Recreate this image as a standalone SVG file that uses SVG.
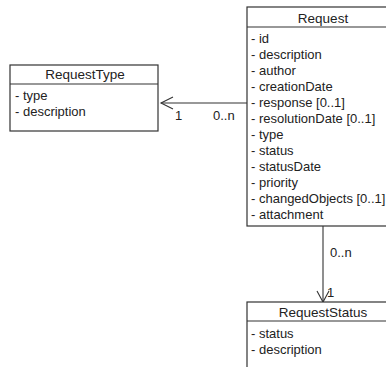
<svg xmlns="http://www.w3.org/2000/svg" width="386" height="367" viewBox="0 0 386 367">
<style>
  .box { fill: #ffffff; stroke: #333333; stroke-width: 1.2; }
  .sep { stroke: #333333; stroke-width: 1.2; }
  .title { font-family: "Liberation Sans", Arial, sans-serif; font-size: 13.5px; fill: #222222; text-anchor: middle; }
  .attr { font-family: "Liberation Sans", Arial, sans-serif; font-size: 13px; fill: #222222; }
  .lbl { font-family: "Liberation Sans", Arial, sans-serif; font-size: 13px; fill: #222222; }
  .conn { fill: none; stroke: #333333; stroke-width: 1.1; }
</style>
<rect width="386" height="367" fill="#ffffff"/>

<g id="connectors">
  <line class="conn" x1="247" y1="103" x2="161" y2="103"/>
  <polyline class="conn" points="173,97 161,103 173,109"/>
  <text class="lbl" x="175" y="120">1</text>
  <text class="lbl" x="213" y="120">0..n</text>

  <line class="conn" x1="323" y1="226" x2="323" y2="302"/>
  <polyline class="conn" points="317,291 323,302 329,291"/>
  <text class="lbl" x="330" y="257">0..n</text>
  <text class="lbl" x="327" y="297">1</text>
</g>

<g id="RequestType">
  <rect class="box" x="10" y="65" width="148" height="66"/>
  <line class="sep" x1="10" y1="84" x2="158" y2="84"/>
  <text class="title" x="85" y="79">RequestType</text>
  <text class="attr" x="15" y="100">- type</text>
  <text class="attr" x="15" y="116">- description</text>
</g>

<g id="Request">
  <rect class="box" x="247" y="7" width="152" height="219"/>
  <line class="sep" x1="247" y1="27" x2="399" y2="27"/>
  <text class="title" x="323" y="23">Request</text>
  <text class="attr" x="251" y="43">- id</text>
  <text class="attr" x="251" y="59">- description</text>
  <text class="attr" x="251" y="75">- author</text>
  <text class="attr" x="251" y="91">- creationDate</text>
  <text class="attr" x="251" y="107">- response [0..1]</text>
  <text class="attr" x="251" y="123">- resolutionDate [0..1]</text>
  <text class="attr" x="251" y="139">- type</text>
  <text class="attr" x="251" y="155">- status</text>
  <text class="attr" x="251" y="171">- statusDate</text>
  <text class="attr" x="251" y="187">- priority</text>
  <text class="attr" x="251" y="203">- changedObjects [0..1]</text>
  <text class="attr" x="251" y="219">- attachment</text>
</g>

<g id="RequestStatus">
  <rect class="box" x="247" y="302" width="152" height="80"/>
  <line class="sep" x1="247" y1="321" x2="399" y2="321"/>
  <text class="title" x="323" y="317">RequestStatus</text>
  <text class="attr" x="251" y="338">- status</text>
  <text class="attr" x="251" y="354">- description</text>
</g>
</svg>
